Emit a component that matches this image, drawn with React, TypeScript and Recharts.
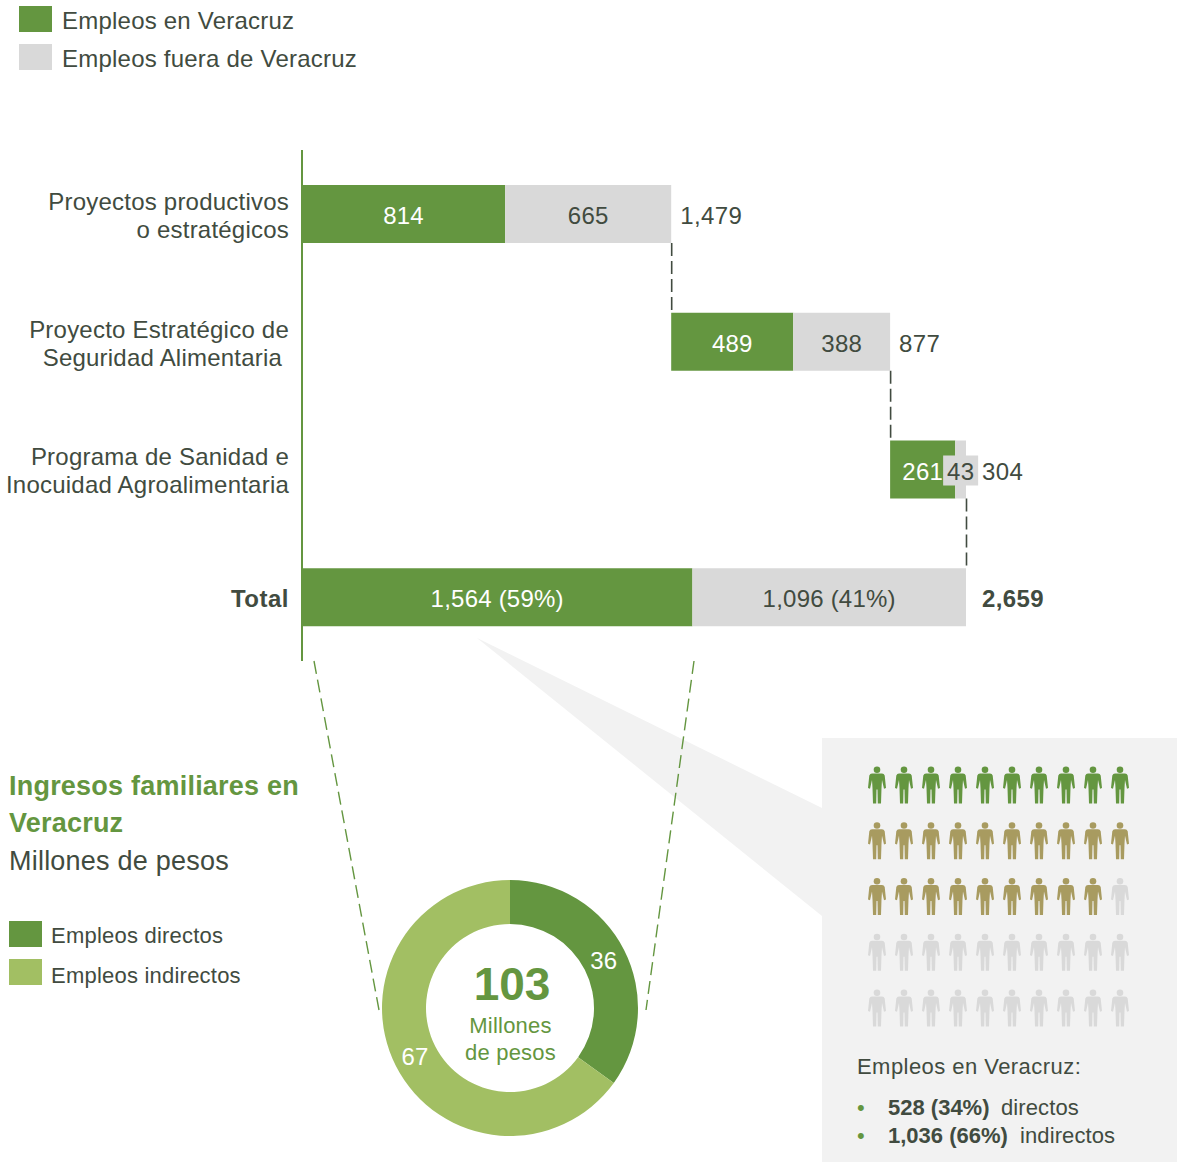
import { BarChart, Bar, XAxis, YAxis, LabelList, PieChart, Pie, Cell, ScatterChart, Scatter } from 'recharts'

const GREEN = '#649640'
const LIGHT_GREEN = '#a2bf63'
const GRAY = '#d9d9d9'
const TAN = '#a89b60'
const DARK = '#414b40'
const FONT = '"Liberation Sans", Arial, sans-serif'
const SPACING = 0.22

/* bar chart data */
const rowLabels = ['Proyectos productivos|o estratégicos', 'Proyecto Estratégico de|Seguridad Alimentaria ', 'Programa de Sanidad e|Inocuidad Agroalimentaria', 'Total']
const offsets = [0, 1479, 2356, 0]
const enVeracruz = [814, 489, 261, 1564]
const fueraVeracruz = [665, 388, 43, 1096]
const enLabels = ['814', '489', '261', '1,564 (59%)']
const fueraLabels = ['665', '388', '43', '1,096 (41%)']
const totalLabels = ['1,479', '877', '304', '2,659']

const barData = rowLabels.map((label, i) => ({
  label,
  offset: offsets[i],
  en: enVeracruz[i],
  fuera: fueraVeracruz[i],
  enLabel: enLabels[i],
  fueraLabel: fueraLabels[i],
  total: totalLabels[i],
}))

/* donut */
const ingresosNames = ['Empleos directos', 'Empleos indirectos']
const ingresosValues = [36, 67]
const ingresosColors = [GREEN, LIGHT_GREEN]
const pieData = ingresosNames.map((name, i) => ({ name, value: ingresosValues[i] }))

/* pictogram, one string per row: g = directo, t = indirecto, n = fuera */
const personRows = ['gggggggggg', 'tttttttttt', 'tttttttttn', 'nnnnnnnnnn', 'nnnnnnnnnn']
const personColors: Record<string, string> = { g: GREEN, t: TAN, n: GRAY }
const personData = personRows.flatMap((row, y) => row.split('').map((kind, x) => ({ x, y, kind })))

const PERSON_PATH =
  'M-5,-11.5 L5,-11.5 Q7,-11.5 7.7,-9.5 L9,3 L7,3.7 L5,-5 L4.5,3 L4,18.5 L0.8,18.5 L0.5,4.5 L-0.5,4.5 L-0.8,18.5 L-4,18.5 L-4.5,3 L-5,-5 L-7,3.7 L-9,3 L-7.7,-9.5 Q-7,-11.5 -5,-11.5 Z'

function Person(props: any) {
  const { cx, cy, payload } = props
  const fill = personColors[payload.kind]
  return (
    <g transform={`translate(${cx},${cy})`} fill={fill}>
      <circle cx={0} cy={-15.3} r={3.3} />
      <path d={PERSON_PATH} />
    </g>
  )
}

function RowTick(props: any) {
  const { x, y, payload } = props
  const lines = String(payload.value).split('|')
  const bold = payload.value === 'Total'
  return (
    <g>
      {lines.map((line, i) => (
        <text
          key={i}
          x={x - 7}
          y={y + (i - (lines.length - 1) / 2) * 28 + 10}
          textAnchor="end"
          fontSize={24}
          fontWeight={bold ? 700 : 400}
          fontFamily={FONT}
          fill={DARK}
          letterSpacing={bold ? 0.5 : SPACING}
          style={{ whiteSpace: 'pre' }}
        >
          {line}
        </text>
      ))}
    </g>
  )
}

function CenterLabel(props: any) {
  const { x, y, width, height, value, fill } = props
  return (
    <text x={x + width / 2} y={y + height / 2 + 10} textAnchor="middle" fontSize={24} fontFamily={FONT} fill={fill} letterSpacing={SPACING}>
      {value}
    </text>
  )
}

function FueraLabel(props: any) {
  const { x, y, width, height, value } = props
  const narrow = width < 30
  const cx = x + width / 2
  return (
    <g>
      {narrow && <rect x={cx - 17.5} y={y + height / 2 - 14} width={35} height={30} fill={GRAY} />}
      <text x={cx} y={y + height / 2 + 10} textAnchor="middle" fontSize={24} fontFamily={FONT} fill={DARK} letterSpacing={SPACING}>
        {value}
      </text>
    </g>
  )
}

/* total at the bar's end, plus the dashed connector down to the next row */
function TotalLabel(props: any) {
  const { x, y, width, height, value, index } = props
  const end = x + width
  const isLast = index === rowLabels.length - 1
  const gap = 16
  return (
    <g>
      {!isLast && (
        <line x1={end + 0.5} x2={end + 0.5} y1={y + height} y2={y + height + 70} stroke={DARK} strokeWidth={1.6} strokeDasharray="13 5" />
      )}
      <text
        x={end + (index < 2 ? 9 : gap)}
        y={y + height / 2 + 10}
        fontSize={24}
        fontWeight={isLast ? 700 : 400}
        fontFamily={FONT}
        fill={DARK}
        letterSpacing={0.4}
      >
        {value}
      </text>
    </g>
  )
}

function Txt({ x, y, size = 24, bold, color = DARK, children, spacing = SPACING }: any) {
  // y is the vertical centre of the line
  return (
    <div
      style={{
        position: 'absolute',
        left: x,
        top: y - 20,
        height: 40,
        lineHeight: '40px',
        fontSize: size,
        fontWeight: bold ? 700 : 400,
        color,
        whiteSpace: 'pre',
        fontFamily: FONT,
        letterSpacing: spacing,
      }}
    >
      {children}
    </div>
  )
}

function Swatch({ x, y, w = 33, h = 26, color }: any) {
  return <div style={{ position: 'absolute', left: x, top: y, width: w, height: h, background: color }} />
}

export default function App() {
  return (
    <div style={{ position: 'absolute', left: 0, top: 0, width: 1178, height: 1162, background: '#fff', overflow: 'hidden', fontFamily: FONT }}>
      {/* background panel, callout wedge and dashed zoom lines */}
      <div style={{ position: 'absolute', left: 822, top: 738, width: 355, height: 424, background: '#f2f2f2' }} />
      <svg width={1178} height={1162} style={{ position: 'absolute', left: 0, top: 0 }}>
        <polygon points="477,638 822,808 822,916" fill="#f2f2f2" />
        <line x1={314} y1={661} x2={379} y2={1010} stroke={GREEN} strokeWidth={1.4} strokeDasharray="13 6" />
        <line x1={694} y1={661} x2={646} y2={1010} stroke={GREEN} strokeWidth={1.4} strokeDasharray="13 6" />
      </svg>

      {/* top legend */}
      <Swatch x={19} y={6} color={GREEN} />
      <Txt x={62} y={21}>Empleos en Veracruz</Txt>
      <Swatch x={19} y={44} color={GRAY} />
      <Txt x={62} y={59}>Empleos fuera de Veracruz</Txt>

      {/* stacked bars */}
      <div style={{ position: 'absolute', left: 0, top: 150 }}>
        <BarChart
          width={1178}
          height={511}
          data={barData}
          layout="vertical"
          margin={{ top: 0, right: 212, bottom: 0, left: 0 }}
          barSize={58}
        >
          <XAxis type="number" hide domain={[0, 2660]} />
          <YAxis
            type="category"
            dataKey="label"
            width={302}
            axisLine={{ stroke: GREEN, strokeWidth: 2 }}
            tickLine={false}
            tick={RowTick}
            tickMargin={0}
            interval={0}
          />
          <Bar dataKey="offset" stackId="a" fill="transparent" isAnimationActive={false} />
          <Bar dataKey="en" stackId="a" fill={GREEN} isAnimationActive={false}>
            <LabelList dataKey="enLabel" content={(p: any) => <CenterLabel {...p} fill="#fff" />} />
          </Bar>
          <Bar dataKey="fuera" stackId="a" fill={GRAY} isAnimationActive={false}>
            <LabelList dataKey="fueraLabel" content={FueraLabel} />
            <LabelList dataKey="total" content={TotalLabel} />
          </Bar>
        </BarChart>
      </div>

      {/* ingresos text and legend */}
      <Txt x={9} y={786} size={27} bold color={GREEN}>Ingresos familiares en</Txt>
      <Txt x={9} y={823} size={27} bold color={GREEN}>Veracruz</Txt>
      <Txt x={9} y={861} size={27}>Millones de pesos</Txt>
      <Swatch x={9} y={921} color={GREEN} />
      <Txt x={51} y={936} size={22}>{ingresosNames[0]}</Txt>
      <Swatch x={9} y={959} color={LIGHT_GREEN} />
      <Txt x={51} y={976} size={22}>{ingresosNames[1]}</Txt>

      {/* donut */}
      <div style={{ position: 'absolute', left: 370, top: 868 }}>
        <PieChart width={280} height={280} margin={{ top: 0, right: 0, bottom: 0, left: 0 }}>
          <Pie
            data={pieData}
            dataKey="value"
            nameKey="name"
            cx={140}
            cy={140}
            innerRadius={84}
            outerRadius={128}
            startAngle={90}
            endAngle={-270}
            stroke="none"
            isAnimationActive={false}
            labelLine={false}
            label={({ cx, cy, midAngle, innerRadius, outerRadius, value }: any) => {
              const r = (innerRadius + outerRadius) / 2
              const a = (midAngle * Math.PI) / 180
              return (
                <text x={cx + r * Math.cos(a) - 0.5} y={cy - r * Math.sin(a) + 9} textAnchor="middle" fontSize={24} fontFamily={FONT} fill="#fff" letterSpacing={SPACING}>
                  {value}
                </text>
              )
            }}
          >
            {pieData.map((_, i) => (
              <Cell key={i} fill={ingresosColors[i]} />
            ))}
          </Pie>
        </PieChart>
      </div>
      <div style={{ position: 'absolute', left: 412, width: 200, top: 954, height: 60, lineHeight: '60px', textAlign: 'center', fontSize: 46, fontWeight: 700, color: GREEN }}>103</div>
      <div style={{ position: 'absolute', left: 410.5, width: 200, top: 1012, lineHeight: '27px', textAlign: 'center', fontSize: 22, color: GREEN, letterSpacing: 0.2 }}>
        Millones
        <br />
        de pesos
      </div>

      {/* pictogram */}
      <div style={{ position: 'absolute', left: 851.5, top: 760 }}>
        <ScatterChart width={293} height={273} margin={{ top: 25, right: 25, bottom: 25, left: 25 }}>
          <XAxis type="number" dataKey="x" hide domain={[0, 9]} />
          <YAxis type="number" dataKey="y" hide domain={[0, 4]} reversed />
          <Scatter data={personData} shape={Person} isAnimationActive={false} />
        </ScatterChart>
      </div>

      <Txt x={857} y={1067} size={22} spacing={0.45}>Empleos en Veracruz:</Txt>
      <Txt x={857} y={1108} size={22} color={GREEN}>•</Txt>
      <Txt x={888} y={1108} size={22} bold spacing={0}>528 (34%)</Txt>
      <Txt x={1001} y={1108} size={22} spacing={0.1}>directos</Txt>
      <Txt x={857} y={1136} size={22} color={GREEN}>•</Txt>
      <Txt x={888} y={1136} size={22} bold spacing={0}>1,036 (66%)</Txt>
      <Txt x={1020} y={1136} size={22} spacing={0.1}>indirectos</Txt>
    </div>
  )
}
